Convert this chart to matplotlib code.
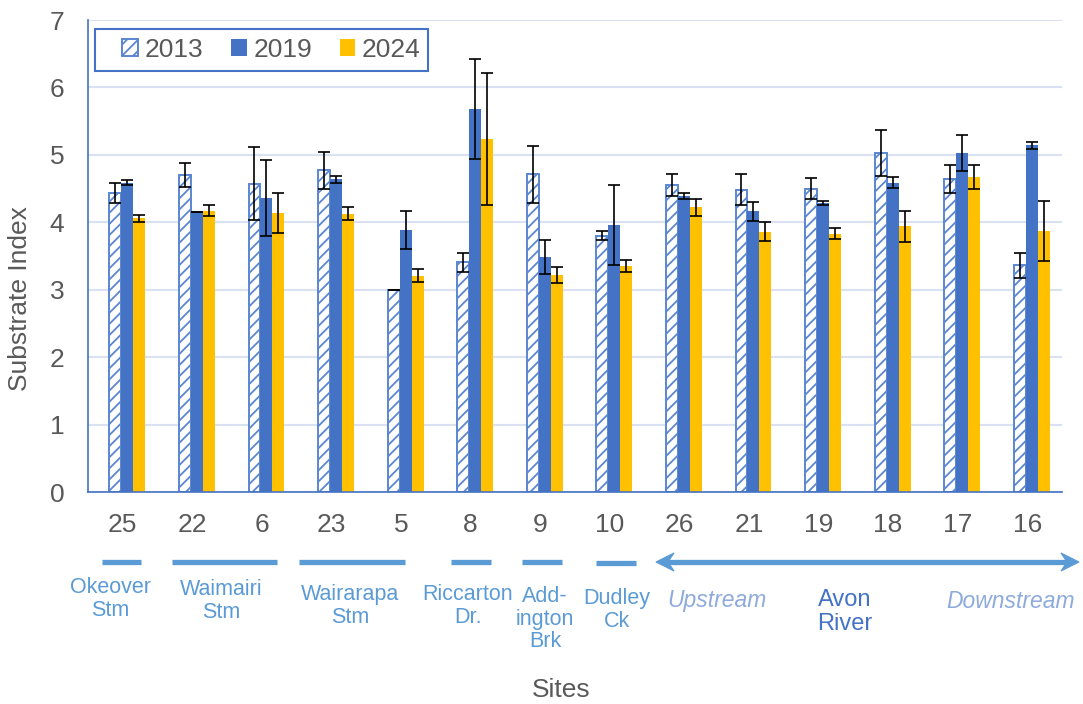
import numpy as np
import matplotlib
matplotlib.use("Agg")
import matplotlib.pyplot as plt
from matplotlib.transforms import blended_transform_factory
from matplotlib.patches import Polygon, Rectangle
from matplotlib.lines import Line2D

plt.rcParams['font.family'] = ['Liberation Sans', 'DejaVu Sans']
plt.rcParams['hatch.linewidth'] = 1.3

sites = ['25', '22', '6', '23', '5', '8', '9', '10', '26', '21', '19', '18', '17', '16']
years = ['2013', '2019', '2024']
v2013 = [4.43, 4.70, 4.57, 4.77, 3.00, 3.41, 4.71, 3.80, 4.55, 4.48, 4.50, 5.03, 4.64, 3.36]
e2013 = [0.15, 0.18, 0.54, 0.27, 0.00, 0.14, 0.42, 0.07, 0.16, 0.23, 0.16, 0.34, 0.21, 0.19]
v2019 = [4.59, 4.15, 4.36, 4.64, 3.89, 5.68, 3.49, 3.96, 4.39, 4.16, 4.28, 4.59, 5.03, 5.14]
e2019 = [0.03, 0.00, 0.57, 0.05, 0.28, 0.74, 0.25, 0.60, 0.04, 0.14, 0.03, 0.08, 0.27, 0.05]
v2024 = [4.06, 4.17, 4.14, 4.13, 3.21, 5.23, 3.22, 3.35, 4.22, 3.86, 3.83, 3.94, 4.67, 3.87]
e2024 = [0.05, 0.08, 0.30, 0.09, 0.09, 0.98, 0.12, 0.09, 0.12, 0.14, 0.08, 0.23, 0.18, 0.44]

W, H = 1083, 704
fig = plt.figure(figsize=(W / 100, H / 100), dpi=100)
ax = fig.add_axes([88/W, (H-492)/H, (1062-88)/W, (492-20)/H])

x = np.arange(len(sites))
w = 0.172
shift = 0.065
tc = '#595959'

ax.bar(x + shift - w, v2013, w, color='white', edgecolor='#5b86d0', linewidth=1.4,
       hatch='///', label=years[0], zorder=2)
ax.bar(x + shift, v2019, w, color='#4472C4', label=years[1], zorder=2)
ax.bar(x + shift + w, v2024, w, color='#FFC000', label=years[2], zorder=2)
for off, v, e in [(-w, v2013, e2013), (0, v2019, e2019), (w, v2024, e2024)]:
    ax.errorbar(x + shift + off, v, yerr=e, fmt='none', ecolor='black', elinewidth=1.2,
                capsize=4.4, capthick=1.2, zorder=3)

ax.set_xlim(-0.5, len(sites) - 0.5)
ax.set_ylim(0, 7)
ax.set_yticks(range(0, 8))
ax.set_xticks(x)
ax.set_xticklabels(sites)
ax.tick_params(axis='both', length=0, labelsize=19, labelcolor=tc)
ax.tick_params(axis='y', pad=17)
ax.tick_params(axis='x', pad=15)
ax.yaxis.grid(True, color='#d9e1f2', linewidth=1.5)
ax.set_axisbelow(True)
for s in ['top', 'right']:
    ax.spines[s].set_visible(False)
for s in ['left', 'bottom']:
    ax.spines[s].set_color('#4472C4')
    ax.spines[s].set_linewidth(1.2)

ax.set_ylabel('Substrate Index', fontsize=19, color=tc)
ax.yaxis.set_label_coords(-0.057, 0.41)

# legend: content placed without frame, frame drawn as a box
leg = ax.legend(loc='center left', bbox_to_anchor=(122/W, 1 - 50/H), bbox_transform=fig.transFigure,
                ncol=3, fontsize=19, frameon=False, borderaxespad=0, borderpad=0,
                handlelength=0.6, handleheight=0.6, handletextpad=0.25, columnspacing=1.05)
for t in leg.get_texts():
    t.set_color(tc)
fig.patches.append(Rectangle((95/W, 1 - 71/H), (428-95)/W, 42/H, transform=fig.transFigure,
                             facecolor='none', edgecolor='#4472C4', linewidth=1.5))

tr = blended_transform_factory(ax.transData, fig.transFigure)

def px2d(px):
    return (px - 88) / 69.57 - 0.5

def py2f(py):
    return 1 - py / H

lc = '#5B9BD5'
segs = [(102, 141, 562), (172, 277, 562), (299, 405, 562), (451, 491, 562),
        (522, 562, 562), (596, 636, 563)]
for a, b, py in segs:
    ax.add_line(Line2D([px2d(a), px2d(b)], [py2f(py)] * 2, transform=tr, color=lc,
                       linewidth=3.8, solid_capstyle='butt', clip_on=False))

# double-headed arrow (Avon River)
ax.add_line(Line2D([px2d(664), px2d(1070)], [py2f(562)] * 2, transform=tr, color=lc,
                   linewidth=3.8, solid_capstyle='butt', clip_on=False))
left_head = [(656, 562), (674, 553), (668, 562), (674, 571)]
right_head = [(1079, 562), (1061, 553), (1067, 562), (1061, 571)]
for head in (left_head, right_head):
    pts = [(px / W, 1 - py / H) for px, py in head]
    fig.patches.append(Polygon(pts, closed=True, transform=fig.transFigure, facecolor=lc,
                               edgecolor=lc, linewidth=0.8))

labels = [('Okeover\nStm', 110, 599), ('Waimairi\nStm', 221, 601), ('Wairarapa\nStm', 350, 606),
          ('Riccarton\nDr.', 468, 606), ('Add-\nington\nBrk', 545, 619), ('Dudley\nCk', 617, 610)]
for txt, px, py in labels:
    ax.text(px2d(px), py2f(py), txt, transform=tr, ha='center', va='center', fontsize=15.5,
            color=lc, linespacing=1.1, clip_on=False)

ax.text(px2d(717), py2f(600), 'Upstream', transform=tr, ha='center', va='center', fontsize=16.5,
        color='#8FAADC', style='italic')
ax.text(px2d(1011), py2f(602), 'Downstream', transform=tr, ha='center', va='center', fontsize=16.5,
        color='#8FAADC', style='italic')
ax.text(px2d(845), py2f(612), 'Avon\nRiver', transform=tr, ha='center', va='center', fontsize=17,
        color='#4472C4', linespacing=1.1)

fig.text(561/W, py2f(690), 'Sites', ha='center', va='center', fontsize=19, color=tc)

fig.savefig('out.png', dpi=100)
